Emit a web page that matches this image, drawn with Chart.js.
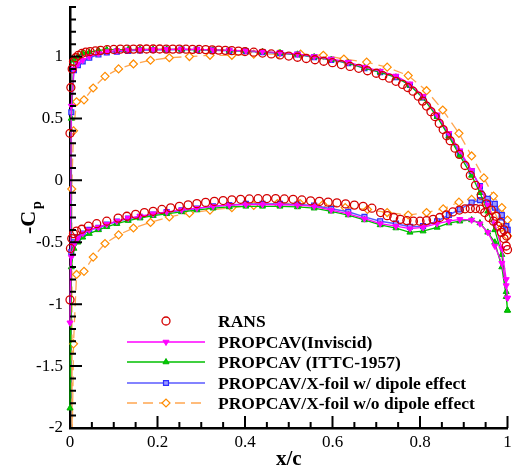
<!DOCTYPE html>
<html lang="en">
<head>
  <meta charset="UTF-8">
  <title>-Cp distribution</title>
  <script src="https://cdn.jsdelivr.net/npm/chart.js"></script>
  <style>
    body {
      margin: 0;
      background: #fff;
    }

    #wrap {
      width: 513px;
      height: 471px;
    }
  </style>
</head>
<body>

  <div id="wrap"><canvas id="cpChart"></canvas></div>

  <script>
    // RANS (points only)
    const ransUpX = [0.0, 0.002, 0.005, 0.008, 0.013, 0.019, 0.027, 0.036, 0.046, 0.058,
      0.07, 0.085, 0.1, 0.115, 0.13, 0.145, 0.16, 0.175, 0.19, 0.205,
      0.22, 0.235, 0.25, 0.265, 0.28, 0.295, 0.31, 0.325, 0.34, 0.355,
      0.37, 0.385, 0.4, 0.42, 0.44, 0.46, 0.48, 0.5, 0.52, 0.54,
      0.56, 0.58, 0.6, 0.62, 0.64, 0.66, 0.68, 0.7, 0.715, 0.73,
      0.745, 0.76, 0.772, 0.784, 0.796, 0.806, 0.815, 0.825, 0.834, 0.844,
      0.853, 0.861, 0.869, 0.88, 0.89, 0.903, 0.915, 0.927, 0.94, 0.952,
      0.963, 0.974, 0.984, 0.992, 0.998];
    const ransUpCp = [0.38, 0.75, 0.9, 0.96, 0.99, 1.01, 1.025, 1.035, 1.04, 1.045,
      1.05, 1.055, 1.057, 1.06, 1.06, 1.06, 1.061, 1.061, 1.061, 1.061,
      1.06, 1.06, 1.06, 1.059, 1.058, 1.057, 1.056, 1.054, 1.052, 1.05,
      1.047, 1.044, 1.04, 1.035, 1.028, 1.021, 1.013, 1.004, 0.994, 0.984,
      0.974, 0.962, 0.95, 0.935, 0.92, 0.905, 0.885, 0.865, 0.845, 0.825,
      0.8, 0.775, 0.75, 0.72, 0.68, 0.64, 0.6, 0.555, 0.515, 0.46,
      0.41, 0.36, 0.32, 0.26, 0.21, 0.12, 0.04, -0.04, -0.12, -0.19,
      -0.24, -0.29, -0.34, -0.4, -0.45];
    const ransLoX = [0.0, 0.001, 0.004, 0.008, 0.015, 0.027, 0.042, 0.061, 0.084, 0.11,
      0.13, 0.15, 0.17, 0.19, 0.21, 0.23, 0.25, 0.27, 0.29, 0.31,
      0.33, 0.35, 0.37, 0.39, 0.41, 0.43, 0.45, 0.47, 0.49, 0.51,
      0.53, 0.55, 0.57, 0.59, 0.61, 0.63, 0.65, 0.67, 0.69, 0.71,
      0.725, 0.74, 0.755, 0.77, 0.785, 0.8, 0.815, 0.83, 0.845, 0.86,
      0.875, 0.89, 0.903, 0.915, 0.927, 0.938, 0.948, 0.958, 0.968, 0.978,
      0.986, 0.992, 0.997, 1.0];
    const ransLoCp = [-0.965, -0.55, -0.47, -0.43, -0.41, -0.395, -0.37, -0.35, -0.33, -0.305,
      -0.29, -0.275, -0.26, -0.25, -0.235, -0.222, -0.21, -0.198, -0.188, -0.178,
      -0.17, -0.163, -0.157, -0.153, -0.15, -0.148, -0.147, -0.147, -0.15, -0.153,
      -0.158, -0.165, -0.17, -0.176, -0.182, -0.19, -0.2, -0.21, -0.225, -0.26,
      -0.285, -0.3, -0.315, -0.325, -0.33, -0.33, -0.325, -0.315, -0.3, -0.28,
      -0.255, -0.24, -0.23, -0.228, -0.228, -0.232, -0.26, -0.3, -0.33, -0.37,
      -0.42, -0.47, -0.53, -0.56];

    // PROPCAV panel points (same x on both sides)
    const panelX = [0.003, 0.009, 0.018, 0.029, 0.044, 0.065, 0.084, 0.107, 0.133, 0.16,
      0.19, 0.221, 0.255, 0.29, 0.327, 0.364, 0.402, 0.44, 0.48, 0.52,
      0.558, 0.597, 0.636, 0.673, 0.709, 0.745, 0.777, 0.807, 0.839, 0.866,
      0.891, 0.918, 0.937, 0.955, 0.971, 0.987, 0.997, 1.0];

    const invUpCp = [0.6, 0.9, 0.94, 0.97, 1.0, 1.025, 1.04, 1.047, 1.052, 1.055,
      1.057, 1.058, 1.059, 1.057, 1.054, 1.05, 1.047, 1.04, 1.032, 1.021,
      1.0, 0.98, 0.955, 0.915, 0.883, 0.843, 0.78, 0.68, 0.53, 0.38,
      0.24, 0.08, -0.05, -0.2, -0.35, -0.55, -0.8, -0.95];
    const invLoCp = [-0.62, -0.52, -0.47, -0.43, -0.4, -0.38, -0.355, -0.33, -0.305, -0.29,
      -0.27, -0.255, -0.24, -0.225, -0.21, -0.2, -0.195, -0.195, -0.197, -0.2,
      -0.21, -0.24, -0.27, -0.31, -0.35, -0.37, -0.39, -0.38, -0.35, -0.33,
      -0.315, -0.32, -0.35, -0.42, -0.53, -0.67, -0.85, -0.95];
    const invStag = -1.15;

    const ittcUpCp = [0.5, 0.97, 1.0, 1.03, 1.035, 1.05, 1.055, 1.055, 1.056, 1.057,
      1.058, 1.058, 1.058, 1.056, 1.053, 1.05, 1.046, 1.038, 1.03, 1.018,
      0.997, 0.975, 0.948, 0.907, 0.874, 0.833, 0.768, 0.665, 0.515, 0.355,
      0.2, 0.04, -0.1, -0.25, -0.4, -0.6, -0.9, -1.05];
    const ittcLoCp = [-0.7, -0.55, -0.5, -0.46, -0.43, -0.4, -0.375, -0.35, -0.325, -0.305,
      -0.285, -0.27, -0.255, -0.24, -0.225, -0.215, -0.21, -0.21, -0.21, -0.215,
      -0.225, -0.25, -0.28, -0.32, -0.36, -0.385, -0.42, -0.41, -0.38, -0.345,
      -0.33, -0.32, -0.345, -0.42, -0.5, -0.7, -0.94, -1.05];
    const ittcStag = -1.84;

    const dipUpCp = [0.55, 0.89, 0.93, 0.96, 0.99, 1.016, 1.033, 1.04, 1.046, 1.05,
      1.053, 1.055, 1.056, 1.054, 1.05, 1.046, 1.043, 1.035, 1.027, 1.016,
      0.995, 0.973, 0.946, 0.905, 0.873, 0.833, 0.77, 0.67, 0.52, 0.365,
      0.22, 0.075, -0.046, -0.15, -0.19, -0.28, -0.37, -0.4];
    const dipLoCp = [-0.58, -0.5, -0.46, -0.43, -0.4, -0.384, -0.357, -0.333, -0.308, -0.295,
      -0.276, -0.257, -0.243, -0.227, -0.21, -0.2, -0.19, -0.19, -0.19, -0.195,
      -0.203, -0.23, -0.254, -0.295, -0.33, -0.35, -0.375, -0.37, -0.33, -0.28,
      -0.235, -0.18, -0.16, -0.17, -0.22, -0.3, -0.37, -0.4];

    // X-foil w/o dipole
    const noDipUpX = [0.004, 0.008, 0.015, 0.032, 0.053, 0.08, 0.111, 0.145, 0.184, 0.227,
      0.273, 0.32, 0.37, 0.42, 0.476, 0.527, 0.579, 0.626, 0.678, 0.725,
      0.773, 0.815, 0.852, 0.889, 0.918, 0.946, 0.968, 0.987, 1.0];
    const noDipUpCp = [-0.07, 0.4, 0.635, 0.65, 0.746, 0.84, 0.9, 0.94, 0.97, 0.99,
      1.0, 1.01, 1.01, 1.02, 1.02, 1.02, 1.01, 0.98, 0.955, 0.914,
      0.846, 0.724, 0.568, 0.38, 0.197, 0.02, -0.127, -0.22, -0.32];
    const noDipLoX = [0.005, 0.008, 0.015, 0.032, 0.053, 0.08, 0.111, 0.145, 0.184, 0.227,
      0.273, 0.32, 0.37, 0.42, 0.474, 0.526, 0.578, 0.629, 0.68, 0.725,
      0.773, 0.815, 0.853, 0.889, 0.918, 0.946, 0.968, 0.987, 1.0];
    const noDipLoCp = [-2.1, -1.32, -0.76, -0.735, -0.62, -0.51, -0.44, -0.385, -0.34, -0.295,
      -0.265, -0.24, -0.22, -0.203, -0.187, -0.187, -0.195, -0.22, -0.235, -0.26,
      -0.28, -0.26, -0.23, -0.176, -0.154, -0.17, -0.24, -0.38, -0.45];

    const seriesNames = [
      'RANS',
      'PROPCAV(Inviscid)',
      'PROPCAV (ITTC-1957)',
      'PROPCAV/X-foil w/ dipole effect',
      'PROPCAV/X-foil w/o dipole effect'
    ];

    function pts(xs, ys) {
      return xs.map((x, i) => ({ x: x, y: ys[i] }));
    }

    // lower side from TE to LE, then upper side LE to TE
    function loop(xl, yl, xu, yu, stag) {
      const lower = pts(xl, yl).reverse();
      if (stag !== undefined) lower.push({ x: 0, y: stag });
      return lower.concat(pts(xu, yu));
    }

    const serif = '"Liberation Serif", "DejaVu Serif", serif';

    function tickText(v) {
      return String(Number(v.toFixed(2)));
    }

    // ticks pointing inwards + titles + legend
    const decorPlugin = {
      id: 'decor',
      afterDraw(chart) {
        const ctx = chart.ctx;
        const xs = chart.scales.x, ys = chart.scales.y;
        const area = chart.chartArea;
        ctx.save();
        ctx.strokeStyle = '#000';
        ctx.lineWidth = 2;
        ctx.beginPath();
        for (let i = 0; i <= 20; i++) {
          const px = xs.getPixelForValue(i * 0.05);
          const len = i % 4 === 0 ? 12 : 6;
          ctx.moveTo(px, area.bottom);
          ctx.lineTo(px, area.bottom - len);
        }
        for (let i = 0; i <= 34; i++) {
          const v = -2 + i * 0.1;
          const py = ys.getPixelForValue(v);
          const len = i % 5 === 0 ? 12 : 6;
          ctx.moveTo(area.left, py);
          ctx.lineTo(area.left + len, py);
        }
        ctx.stroke();

        // axis titles
        ctx.fillStyle = '#000';
        ctx.font = 'bold 21px ' + serif;
        ctx.textAlign = 'center';
        ctx.textBaseline = 'middle';
        ctx.fillText('x/c', (area.left + area.right) / 2, 460);

        ctx.translate(29, 218);
        ctx.rotate(-Math.PI / 2);
        ctx.font = 'bold 22px ' + serif;
        ctx.textAlign = 'left';
        ctx.fillText('-C', -16, 0);
        ctx.font = 'bold 14px ' + serif;
        ctx.fillText('p', 9, 8);
        ctx.setTransform(1, 0, 0, 1, 0, 0);

        // legend
        const rowY = [321, 342, 362, 383, 403];
        const lineX0 = 127, lineX1 = 205, markX = 166, textX = 218;
        chart.data.datasets.forEach((ds, i) => {
          const y = rowY[i];
          if (ds.showLine) {
            ctx.save();
            ctx.strokeStyle = ds.borderColor;
            ctx.lineWidth = ds.borderWidth;
            ctx.setLineDash(ds.borderDash || []);
            ctx.beginPath();
            ctx.moveTo(lineX0, y);
            ctx.lineTo(lineX1, y);
            ctx.stroke();
            ctx.restore();
          }
          ctx.strokeStyle = ds.pointBorderColor;
          ctx.fillStyle = ds.pointBackgroundColor;
          ctx.lineWidth = ds.pointBorderWidth;
          Chart.helpers.drawPoint(ctx, {
            pointStyle: ds.pointStyle,
            rotation: ds.pointRotation || 0,
            radius: ds.pointRadius,
            borderWidth: ds.pointBorderWidth
          }, markX, y);
          ctx.fillStyle = '#000';
          ctx.font = 'bold 17.5px ' + serif;
          ctx.textAlign = 'left';
          ctx.textBaseline = 'middle';
          ctx.fillText(seriesNames[i], textX, y + 1);
        });
        ctx.restore();
      }
    };

    const clipBox = { left: 6, right: 6, top: 0, bottom: 0 };

    new Chart(document.getElementById('cpChart'), {
      type: 'scatter',
      data: {
        datasets: [
          {
            label: seriesNames[0],
            data: pts(ransLoX, ransLoCp).concat(pts(ransUpX, ransUpCp)),
            showLine: false,
            pointStyle: 'circle',
            pointRadius: 4,
            pointBorderWidth: 1.3,
            pointBorderColor: '#d40000',
            pointBackgroundColor: 'rgba(0,0,0,0)',
            borderColor: '#d40000',
            clip: clipBox
          },
          {
            label: seriesNames[1],
            data: loop(panelX, invLoCp, panelX, invUpCp, invStag),
            showLine: true,
            borderColor: '#ff00ff',
            borderWidth: 1.3,
            pointStyle: 'triangle',
            pointRotation: 180,
            pointRadius: 3.5,
            pointBorderWidth: 1,
            pointBorderColor: '#ff00ff',
            pointBackgroundColor: '#ff00ff',
            clip: clipBox
          },
          {
            label: seriesNames[2],
            data: loop(panelX, ittcLoCp, panelX, ittcUpCp, ittcStag),
            showLine: true,
            borderColor: '#00c000',
            borderWidth: 1.3,
            pointStyle: 'triangle',
            pointRadius: 3.5,
            pointBorderWidth: 1,
            pointBorderColor: '#00b000',
            pointBackgroundColor: '#00d000',
            clip: clipBox
          },
          {
            label: seriesNames[3],
            data: loop(panelX, dipLoCp, panelX, dipUpCp),
            showLine: true,
            borderColor: '#5a5aff',
            borderWidth: 1.5,
            pointStyle: 'rect',
            pointRadius: 3.5,
            pointBorderWidth: 1.2,
            pointBorderColor: '#2e2eff',
            pointBackgroundColor: '#9a9aff',
            clip: clipBox
          },
          {
            label: seriesNames[4],
            data: loop(noDipLoX, noDipLoCp, noDipUpX, noDipUpCp),
            showLine: true,
            borderColor: '#ffa650',
            borderWidth: 1.3,
            borderDash: [10, 6],
            pointStyle: 'rectRot',
            pointRadius: 4,
            pointBorderWidth: 1.2,
            pointBorderColor: '#ff8c00',
            pointBackgroundColor: '#ffffff',
            clip: clipBox
          }
        ]
      },
      options: {
        responsive: true,
        maintainAspectRatio: false,
        animation: false,
        layout: {
          padding: { top: 7, right: 5.5, left: 0, bottom: 0 }
        },
        plugins: {
          legend: { display: false },
          tooltip: { enabled: false }
        },
        scales: {
          x: {
            type: 'linear',
            min: 0,
            max: 1,
            grid: { display: false, drawTicks: false },
            border: { display: true, color: '#000', width: 2.5 },
            ticks: {
              stepSize: 0.2,
              padding: 4,
              color: '#000',
              font: { family: serif, size: 17 },
              callback: tickText
            },
            afterFit(scale) {
              scale.height = 43;
              scale.paddingLeft = 0;
              scale.paddingRight = 0;
            }
          },
          y: {
            type: 'linear',
            min: -2,
            max: 1.4,
            grid: { display: false, drawTicks: false },
            border: { display: true, color: '#000', width: 2.5 },
            ticks: {
              stepSize: 0.5,
              includeBounds: false,
              padding: 7,
              color: '#000',
              font: { family: serif, size: 17 },
              callback: tickText
            },
            afterFit(scale) {
              scale.width = 70;
              scale.paddingTop = 0;
              scale.paddingBottom = 0;
            }
          }
        }
      },
      plugins: [decorPlugin]
    });
  </script>

</body>
</html>
